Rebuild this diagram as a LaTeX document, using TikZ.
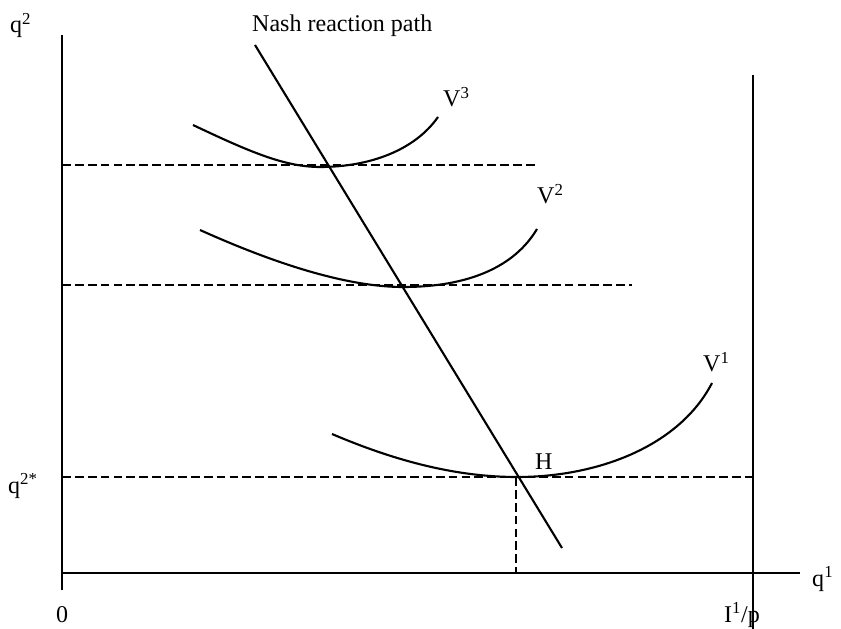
\documentclass[tikz,border=0pt]{standalone}
\usepackage{fontspec}
\setmainfont{Liberation Serif}
\tikzset{
  curve/.style={line width=1.8pt},
  guide/.style={line width=1.4pt,dash pattern=on 7.5pt off 3.5pt},
  lbl/.style={inner sep=0pt,font=\fontsize{20.5}{24}\selectfont}
}
\begin{document}
\begin{tikzpicture}[x=0.03cm,y=-0.03cm]
  \useasboundingbox (0,0) rectangle (841,629);
  % axes
  \coordinate (O) at (62,573);
  \coordinate (ytop) at (62,35);
  \coordinate (ybot) at (62,590);
  \coordinate (xend) at (800,573);
  \coordinate (btop) at (753,75);
  \coordinate (bbot) at (753,629);
  \draw[curve] (ytop) -- (ybot);
  \draw[curve] (O) -- (xend);
  \draw[curve] (btop) -- (bbot);
  % Nash reaction path
  \coordinate (ntop) at (255,45);
  \coordinate (nbot) at (562,548);
  \draw[curve] (ntop) -- (nbot);
  % levels
  \coordinate (h3l) at (62,165);  \coordinate (h3r) at (538,165);
  \coordinate (h2l) at (62,285);  \coordinate (h2r) at (632,285);
  \coordinate (h1l) at (62,477);  \coordinate (h1r) at (753,477);
  \coordinate (H) at (516,477);   \coordinate (Hx) at (516,573);
  \draw[guide] (h3l) -- (h3r);
  \draw[guide] (h2l) -- (h2r);
  \draw[guide] (h1l) -- (h1r);
  \draw[guide] (H) -- (Hx);
  % iso-value curves
  \draw[curve] (193,125) .. controls (250,152) and (285,167) .. (320,167)
    .. controls (370,167) and (415,150) .. (438,117);
  \draw[curve] (200,230) .. controls (280,266) and (350,287) .. (403,287)
    .. controls (470,287) and (515,266) .. (537,229);
  \draw[curve] (332,434) .. controls (400,463) and (460,477) .. (517,477)
    .. controls (600,477) and (680,445) .. (712,383);
  % labels
  \node[lbl,anchor=base west] (lq2) at (10,33) {q\textsuperscript{2}};
  \node[lbl,anchor=base west] (lq2s) at (8,493) {q\textsuperscript{2*}};
  \node[lbl,anchor=base west] (l0) at (56,622) {0};
  \node[lbl,anchor=base west] (lip) at (724,622) {I\textsuperscript{1}/p};
  \node[lbl,anchor=base west] (lq1) at (812,586) {q\textsuperscript{1}};
  \node[lbl,anchor=base west] (lnash) at (252,32) {Nash reaction path};
  \node[lbl,anchor=base west] (lv3) at (443,107) {V\textsuperscript{3}};
  \node[lbl,anchor=base west] (lv2) at (537,204) {V\textsuperscript{2}};
  \node[lbl,anchor=base west] (lv1) at (703,372) {V\textsuperscript{1}};
  \node[lbl,anchor=base west] (lH) at (535,469) {H};
\end{tikzpicture}
\end{document}
